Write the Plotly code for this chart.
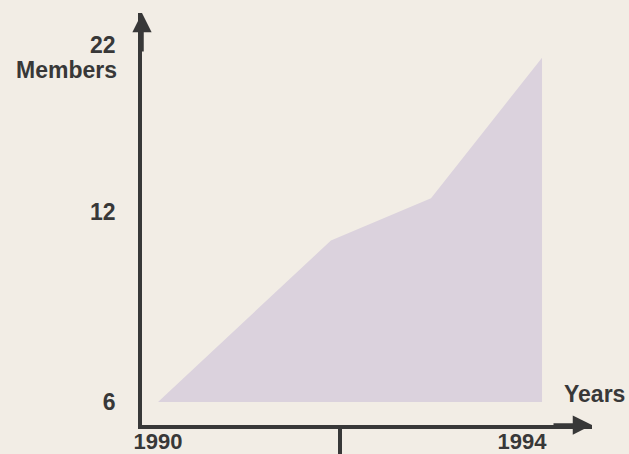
import plotly.graph_objects as go

# ---- data ----
YEARS = [1990, 1991.9, 1993, 1994.22]
MEMBERS = [6, 10.8, 12.6, 21]
BASELINE = 6
Y_TICKS = [6, 12, 22]
Y_TICK_LABELS = ["6", "12", "22"]
X_TICKS = [1990, 1994]
X_TICK_LABELS = ["1990", "1994"]
MID_TICK = [1992]

BG = "#f2ede5"
FILL = "#dbd2dd"
INK = "#383838"
FONT = "Liberation Sans, Arial, sans-serif"
FS = 23

poly_x = YEARS + [YEARS[-1]]
poly_y = MEMBERS + [BASELINE]

fig = go.Figure()
fig.add_trace(go.Scatter(
    x=poly_x, y=poly_y, fill="toself", fillcolor=FILL,
    mode="lines", line=dict(width=0, color=FILL),
    hoverinfo="skip", showlegend=False,
))
# invisible trace to attach the secondary x axis (mid tick)
fig.add_trace(go.Scatter(x=[YEARS[0]], y=[BASELINE], xaxis="x2", mode="markers",
                         marker=dict(opacity=0), showlegend=False, hoverinfo="skip"))

fig.update_layout(
    width=629, height=454,
    margin=dict(l=142, r=37, t=13, b=29, autoexpand=False),
    paper_bgcolor=BG, plot_bgcolor=BG,
    font=dict(family=FONT, color=INK),
    xaxis=dict(
        range=[1989.8242, 1994.7692], automargin=False,
        tickvals=X_TICKS, ticktext=X_TICK_LABELS,
        showgrid=False, zeroline=False,
        showline=True, linecolor=INK, linewidth=3.5,
        ticks="", ticklabelstandoff=-6,
        tickfont=dict(size=22, weight="bold", color=INK, family=FONT),
    ),
    xaxis2=dict(
        overlaying="x", matches="x", side="bottom", automargin=False,
        tickvals=MID_TICK, ticks="outside", ticklen=34, tickwidth=3.5, tickcolor=INK,
        showticklabels=False, showgrid=False, zeroline=False, showline=False,
    ),
    yaxis=dict(
        type="log", range=[0.7418, 1.3931], automargin=False,
        tickvals=Y_TICKS, ticktext=Y_TICK_LABELS,
        showgrid=False, zeroline=False,
        showline=True, linecolor=INK, linewidth=3.5,
        ticks="", ticklabelstandoff=18,
        tickfont=dict(size=FS, weight="bold", color=INK, family=FONT),
    ),
    annotations=[
        dict(xref="paper", yref="paper", x=0, y=1, ax=0, ay=40, text="",
             showarrow=True, arrowhead=2, arrowsize=1.1, arrowwidth=3.5, arrowcolor=INK),
        dict(xref="paper", yref="paper", x=1, y=0, ax=-40, ay=0, text="",
             showarrow=True, arrowhead=2, arrowsize=1.1, arrowwidth=3.5, arrowcolor=INK),
        dict(xref="paper", yref="paper", x=-0.0511, y=0.8617, xanchor="right", yanchor="middle",
             text="Members", showarrow=False,
             font=dict(size=FS, weight="bold", color=INK, family=FONT)),
        dict(xref="paper", yref="paper", x=0.9333, y=0.0752, xanchor="left", yanchor="middle",
             text="Years", showarrow=False,
             font=dict(size=FS, weight="bold", color=INK, family=FONT)),
    ],
)

fig.write_html("out.html", config={"displayModeBar": False})

# remove the default page margin so the figure sits at the window origin
with open("out.html", "r", encoding="utf-8") as f:
    html = f.read()
html = html.replace("<head>", "<head><style>html,body{margin:0;padding:0;background:%s;}</style>" % BG, 1)
with open("out.html", "w", encoding="utf-8") as f:
    f.write(html)
